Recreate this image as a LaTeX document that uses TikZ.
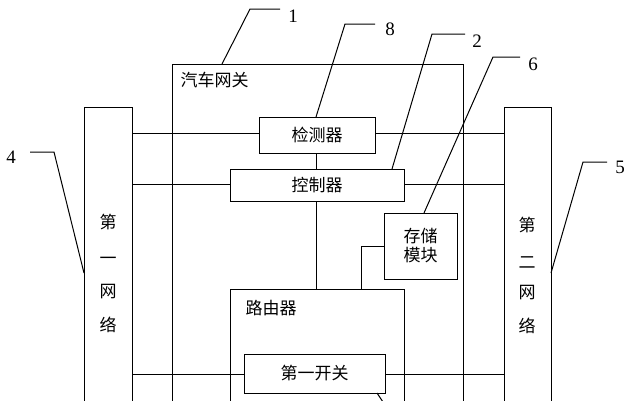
\documentclass[tikz,border=0pt]{standalone}
\usepackage{fontspec}
\setmainfont{Liberation Serif}
\newfontfamily\cjk{Noto Sans CJK SC}[Scale=1]
\begin{document}
\begin{tikzpicture}[x=1pt,y=-1pt,line width=1pt,
  lbl/.style={font=\cjk\fontsize{17}{20}\selectfont,inner sep=0pt},
  num/.style={font=\fontsize{19}{20}\selectfont,inner sep=0pt},
  bx/.style={draw,inner sep=0pt}]
\useasboundingbox (0,0) rectangle (631,400);
\fill[white] (0,0) rectangle (631,400);
\begin{scope}
\clip (0,0) rectangle (631,400);
% outer gateway box
\draw (172,64) rectangle (463,420);
\node[lbl,anchor=west] (gw) at (180,80) {汽车网关};
% bars
\draw (84,107) rectangle (132,420);
\draw (504,107) rectangle (551,420);
\node[lbl] (n1a) at (108,222) {第};
\node[lbl] (n1b) at (108,261) {一};
\node[lbl] (n1c) at (108,292) {网};
\node[lbl] (n1d) at (108,325) {络};
\node[lbl] (n2a) at (527,225) {第};
\node[lbl] (n2b) at (527,263) {二};
\node[lbl] (n2c) at (527,293) {网};
\node[lbl] (n2d) at (527,326) {络};
% router
\draw (230,289) rectangle (404,420);
\node[lbl,anchor=west] (rt) at (245,308) {路由器};
% lines
\draw (132,133) -- (504,133);
\draw (132,184) -- (504,184);
\draw (132,374) -- (504,374);
\draw (316,153) -- (316,289);
\draw (384,246) -- (361,246) -- (361,289);
% boxes
\node[bx,fill=white,minimum width=116pt,minimum height=36pt,lbl] (det) at (317,135) {检测器};
\node[bx,fill=white,minimum width=174pt,minimum height=32pt,lbl] (ctl) at (317,185) {控制器};
\node[bx,fill=white,minimum width=73pt,minimum height=66pt,lbl,align=center] (mem) at (420.5,246) {存储\\[-1pt]模块};
\node[bx,fill=white,minimum width=141pt,minimum height=39pt,lbl] (sw) at (314.5,373.5) {第一开关};
\draw (377,393) -- (383,402);
% leaders
\draw (222,64) -- (250,9) -- (280,9);
\node[num] (l1) at (293,16) {1};
\draw (316,117) -- (345,24) -- (375,24);
\node[num] (l8) at (390,29) {8};
\draw (392,169) -- (432,34) -- (465,34);
\node[num] (l2) at (477,41) {2};
\draw (424,213) -- (493,57) -- (520,57);
\node[num] (l6) at (533,64) {6};
\draw (84,273) -- (54,152) -- (30,152);
\node[num] (l4) at (11,157) {4};
\draw (551,273) -- (583,162) -- (607,162);
\node[num] (l5) at (620,167) {5};
\end{scope}
\end{tikzpicture}
\end{document}
